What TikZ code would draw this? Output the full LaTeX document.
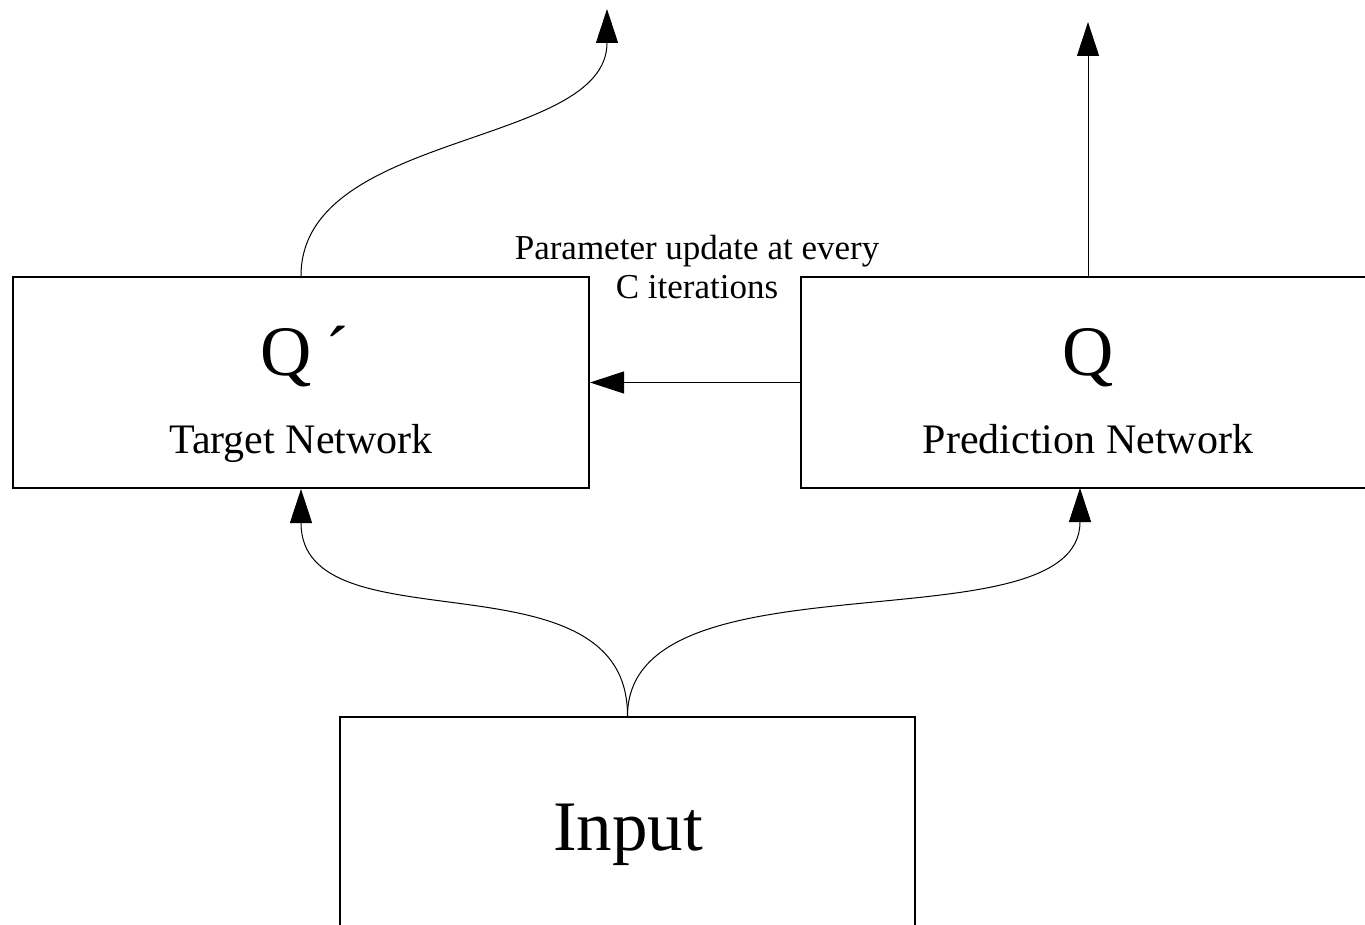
\documentclass[tikz,border=0pt]{standalone}
\usepackage{fontspec}
\setmainfont{Liberation Serif}
\usetikzlibrary{arrows.meta}

\begin{document}
\begin{tikzpicture}[x=1pt, y=-1pt]

\useasboundingbox (0,0) rectangle (1365,925);
\clip (0,0) rectangle (1365,925);

\begin{scope}[every node/.style={draw, line width=2pt, rectangle}]
    \node[minimum width=576pt, minimum height=211pt] (target) at (301,382.5) {};
    \node[minimum width=600pt, minimum height=211pt] (pred) at (1101,382.5) {};
    \node[minimum width=575pt, minimum height=260pt] (input) at (627.5,847) {};
\end{scope}

\begin{scope}[every node/.style={inner sep=0pt, anchor=base}]
    \node[font=\fontsize{71}{80}\selectfont] (qt) at (305,375) {Q\hspace{14pt}´};
    \node[font=\fontsize{42}{48}\selectfont] (tname) at (301,453) {Target Network};
    \node[font=\fontsize{71}{80}\selectfont] (qp) at (1088,375) {Q};
    \node[font=\fontsize{42}{48}\selectfont] (pname) at (1088,453) {Prediction Network};
    \node[font=\fontsize{71}{80}\selectfont] (iname) at (628,850) {Input};
\end{scope}

\node[font=\fontsize{35}{39}\selectfont, align=center, inner sep=0pt, anchor=north] (upd) at (697,235)
    {Parameter update at every\\C iterations};

\coordinate (tout) at (607,9);
\coordinate (pout) at (1088,22);

\begin{scope}[-{Triangle[length=34pt, width=22pt]}, line width=1pt]
    \draw (target.north) .. controls (301,130) and (607,148) .. (tout);
    \draw (pout |- pred.north) -- (pout);
    \draw (pred.west) -- (target.east);

    \draw (input.north) .. controls (628,547) and (301,651) .. (target.south);
    \draw (input.north) .. controls (628,547) and (1080,651) .. (1080,488);
\end{scope}

\end{tikzpicture}
\end{document}
